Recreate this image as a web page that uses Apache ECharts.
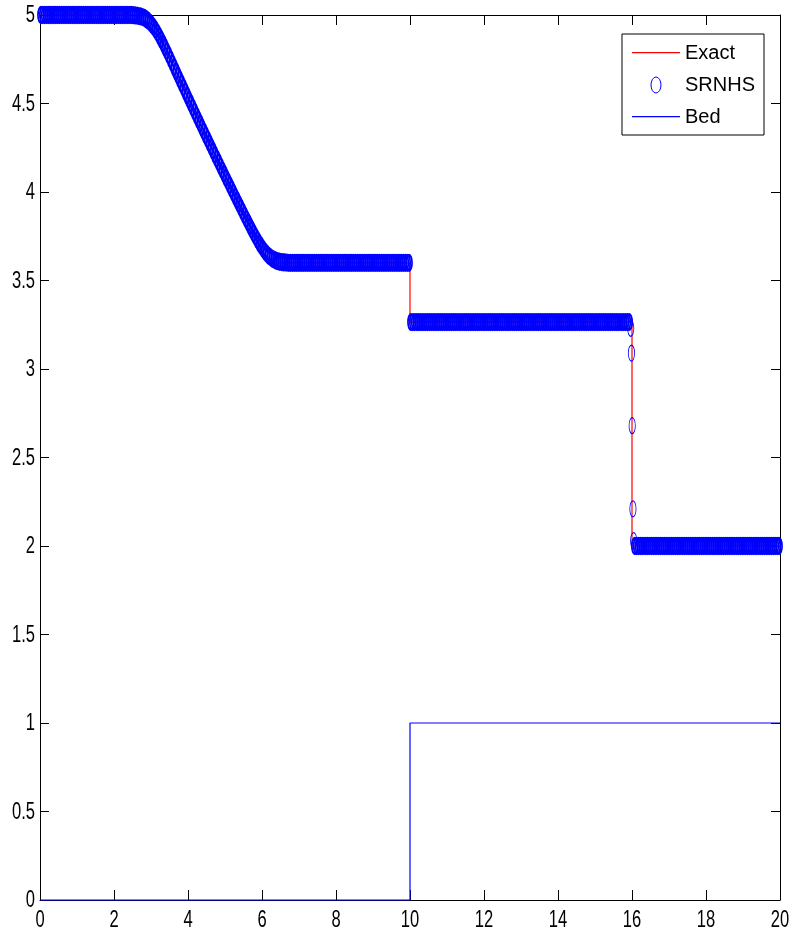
<!DOCTYPE html>
<html>
<head>
<meta charset="utf-8">
<title>Dam break over a step</title>
<script src="https://cdn.jsdelivr.net/npm/echarts@6/dist/echarts.min.js"></script>
<style>
  html, body { margin: 0; padding: 0; background: #fff; }
  #chart { width: 791px; height: 938px; }
</style>
</head>
<body>
<div id="chart"></div>
<script>
// Water surface at t = 1 for a dam break over a bed step at x = 10.
const cellWidth = 0.05;

// Numerical (SRNHS) cell values, one array per stretch of the channel.
const reservoirStart = 0.025;
const hReservoir = [
  5, 5, 5, 5, 5, 5, 5, 5, 5, 5,
  5, 5, 5, 5, 5, 5, 5, 5, 5, 5,
  5, 5, 5, 5, 5, 5, 5, 5, 5, 5,
  5, 5, 5, 5, 5, 5, 5, 5, 5, 5,
  5, 5, 5, 5, 5, 5, 5, 5, 5, 5
];

const fanStart = 2.525;
const hFan = [
  4.999, 4.998, 4.996, 4.994, 4.992, 4.988, 4.983, 4.976, 4.968, 4.957,
  4.945, 4.932, 4.916, 4.899, 4.880, 4.860, 4.840, 4.818, 4.796, 4.774,
  4.751, 4.728, 4.705,
  4.682, 4.659, 4.636, 4.613, 4.591, 4.568, 4.545, 4.522, 4.500, 4.477,
  4.455, 4.432, 4.410, 4.388, 4.365, 4.343, 4.321, 4.299, 4.277, 4.255,
  4.233, 4.211, 4.189, 4.168, 4.146, 4.124, 4.103, 4.081, 4.060, 4.038,
  4.017, 3.996, 3.974, 3.953, 3.932, 3.911, 3.890, 3.869, 3.848,
  3.828, 3.807, 3.787, 3.767, 3.748, 3.729, 3.711, 3.695, 3.679, 3.665,
  3.652, 3.641, 3.632, 3.624, 3.618, 3.613, 3.609, 3.606, 3.604, 3.603,
  3.602, 3.601, 3.600
];

const upstreamStart = 6.775;
const hUpstream = [
  3.6, 3.6, 3.6, 3.6, 3.6, 3.6, 3.6, 3.6, 3.6, 3.6,
  3.6, 3.6, 3.6, 3.6, 3.6, 3.6, 3.6, 3.6, 3.6, 3.6,
  3.6, 3.6, 3.6, 3.6, 3.6, 3.6, 3.6, 3.6, 3.6, 3.6,
  3.6, 3.6, 3.6, 3.6, 3.6, 3.6, 3.6, 3.6, 3.6, 3.6,
  3.6, 3.6, 3.6, 3.6, 3.6, 3.6, 3.6, 3.6, 3.6, 3.6,
  3.6, 3.6, 3.6, 3.6, 3.6, 3.6, 3.6, 3.6, 3.6, 3.6,
  3.6, 3.6, 3.6, 3.6, 3.6
];

const stepStart = 10.025;
const hOverStep = [
  3.265, 3.265, 3.265, 3.265, 3.265, 3.265, 3.265, 3.265, 3.265, 3.265,
  3.265, 3.265, 3.265, 3.265, 3.265, 3.265, 3.265, 3.265, 3.265, 3.265,
  3.265, 3.265, 3.265, 3.265, 3.265, 3.265, 3.265, 3.265, 3.265, 3.265,
  3.265, 3.265, 3.265, 3.265, 3.265, 3.265, 3.265, 3.265, 3.265, 3.265,
  3.265, 3.265, 3.265, 3.265, 3.265, 3.265, 3.265, 3.265, 3.265, 3.265,
  3.265, 3.265, 3.265, 3.265, 3.265, 3.265, 3.265, 3.265, 3.265, 3.265,
  3.265, 3.265, 3.265, 3.265, 3.265, 3.265, 3.265, 3.265, 3.265, 3.265,
  3.265, 3.265, 3.265, 3.265, 3.265, 3.265, 3.265, 3.265, 3.265, 3.265,
  3.265, 3.265, 3.265, 3.265, 3.265, 3.265, 3.265, 3.265, 3.265, 3.265,
  3.265, 3.265, 3.265, 3.265, 3.265, 3.265, 3.265, 3.265, 3.265, 3.265,
  3.265, 3.265, 3.265, 3.265, 3.265, 3.265, 3.265, 3.265, 3.265, 3.265,
  3.265, 3.265, 3.265, 3.265, 3.265, 3.265, 3.265, 3.265, 3.265
];

// Cells inside the bore front
const shockX = [15.965, 15.985, 16.005, 16.025, 16.045];
const shockH = [3.23, 3.09, 2.68, 2.21, 2.03];

const tailStart = 16.075;
const hTailwater = [
  2, 2, 2, 2, 2, 2, 2, 2, 2, 2,
  2, 2, 2, 2, 2, 2, 2, 2, 2, 2,
  2, 2, 2, 2, 2, 2, 2, 2, 2, 2,
  2, 2, 2, 2, 2, 2, 2, 2, 2, 2,
  2, 2, 2, 2, 2, 2, 2, 2, 2, 2,
  2, 2, 2, 2, 2, 2, 2, 2, 2, 2,
  2, 2, 2, 2, 2, 2, 2, 2, 2, 2,
  2, 2, 2, 2, 2, 2, 2, 2, 2
];

// Exact solution: rarefaction fan, standing jump at the step, bore at x = 16
const exactX = [0, 2.996, 3.5, 4.0, 4.5, 5.0, 5.5, 6.0, 6.179, 10, 10, 16, 16, 20];
const exactH = [5, 5, 4.763, 4.534, 4.310, 4.092, 3.879, 3.673, 3.6, 3.6, 3.265, 3.265, 2.0, 2.0];

// Bed profile with a unit step at x = 10
const bedX = [0, 10, 10, 20];
const bedZ = [0, 0, 1, 1];

// Tick values and their labels
const xTickValues = [0, 2, 4, 6, 8, 10, 12, 14, 16, 18, 20];
const xTickLabels = ['0', '2', '4', '6', '8', '10', '12', '14', '16', '18', '20'];
const yTickValues = [0, 0.5, 1, 1.5, 2, 2.5, 3, 3.5, 4, 4.5, 5];
const yTickLabels = ['0', '0.5', '1', '1.5', '2', '2.5', '3', '3.5', '4', '4.5', '5'];

const seriesNames = ['Exact', 'SRNHS', 'Bed'];

function cells(x0, values) {
  return values.map((h, i) => [+(x0 + i * cellWidth).toFixed(3), h]);
}
function pairs(xs, ys) {
  return xs.map((x, i) => [x, ys[i]]);
}

// isolated cells in the bore are drawn with a hairline ring
const shockCells = pairs(shockX, shockH).map(p => ({
  value: p,
  symbolSize: [10, 16],
  itemStyle: { borderWidth: 1 }
}));

const srnhsData = [].concat(
  cells(reservoirStart, hReservoir),
  cells(fanStart, hFan),
  cells(upstreamStart, hUpstream),
  cells(stepStart, hOverStep),
  shockCells,
  cells(tailStart, hTailwater)
);

const font = "'Liberation Sans', Arial, Helvetica, sans-serif";
const ink = '#000';
const labelSize = 23;
const labelSqueeze = 0.72;

function frameAxis(extra) {
  return Object.assign({
    type: 'value',
    axisLine: { show: true, onZero: false, lineStyle: { color: ink, width: 1 } },
    axisTick: { show: true, inside: true, length: 9, lineStyle: { color: ink, width: 1 } },
    splitLine: { show: false },
    axisLabel: { show: false }
  }, extra);
}

const xRange = { min: 0, max: 20, interval: 2 };
const yRange = { min: 0, max: 5, interval: 0.5 };

// thin horizontal bar used as the legend key of line series
const lineKey = 'path://M0,0 M48,16 M0,7 L48,7 L48,8.2 L0,8.2 Z';
const ringKey = 'path://M0,8 A5,8 0 1,1 10,8 A5,8 0 1,1 0,8 Z';

const chart = echarts.init(document.getElementById('chart'), null, { renderer: 'canvas' });

chart.setOption({
  animation: false,
  backgroundColor: '#fff',
  grid: { left: 40, right: 11, top: 15, bottom: 38, outerBoundsMode: 'none', containLabel: false },
  xAxis: [
    frameAxis(Object.assign({
      position: 'bottom',
      axisTick: { show: true, inside: true, length: 10, lineStyle: { color: ink } }
    }, xRange)),
    frameAxis(Object.assign({
      position: 'top',
      axisTick: { show: true, inside: true, length: 10, lineStyle: { color: ink } }
    }, xRange))
  ],
  yAxis: [
    frameAxis(Object.assign({ position: 'left' }, yRange)),
    frameAxis(Object.assign({ position: 'right' }, yRange))
  ],
  legend: {
    data: [
      { name: seriesNames[0], icon: lineKey },
      { name: seriesNames[1], icon: ringKey, itemStyle: { borderWidth: 1, color: 'rgba(0,0,0,0)', borderColor: '#0000ff' } },
      { name: seriesNames[2], icon: lineKey }
    ],
    orient: 'vertical',
    right: 27,
    top: 34,
    padding: [9, 9, 8, 10],
    itemGap: 12,
    itemWidth: 48,
    itemHeight: 16,
    borderColor: ink,
    borderWidth: 1,
    borderRadius: 0,
    backgroundColor: '#fff',
    selectedMode: false,
    textStyle: { color: ink, fontFamily: font, fontSize: 20 }
  },
  series: [
    {
      name: seriesNames[0],
      type: 'line',
      data: pairs(exactX, exactH),
      symbol: 'none',
      symbolKeepAspect: true,
      lineStyle: { color: '#ff0000', width: 1.2 },
      itemStyle: { color: '#ff0000' },
      silent: true,
      z: 2
    },
    {
      name: seriesNames[1],
      type: 'scatter',
      data: srnhsData,
      symbol: ringKey,
      symbolSize: [9.5, 15.5],
      symbolKeepAspect: true,
      clip: false,
      itemStyle: { color: 'rgba(0,0,0,0)', borderColor: '#0000ff', borderWidth: 2.2, opacity: 1 },
      silent: true,
      z: 3
    },
    {
      name: seriesNames[2],
      type: 'line',
      data: pairs(bedX, bedZ),
      symbol: 'none',
      symbolKeepAspect: true,
      clip: false,
      lineStyle: { color: '#0000ff', width: 1.2 },
      itemStyle: { color: '#0000ff' },
      silent: true,
      z: 4
    }
  ]
});

// Tick labels in a narrow face, placed through the axes' own scales.
function placeTickLabels() {
  const xBase = chart.convertToPixel({ yAxisIndex: 0 }, 0);
  const xLeft = chart.convertToPixel({ xAxisIndex: 0 }, 0);
  const texts = [];
  xTickValues.forEach((v, i) => {
    texts.push({
      type: 'text',
      x: chart.convertToPixel({ xAxisIndex: 0 }, v),
      y: xBase + 21,
      scaleX: labelSqueeze,
      silent: true,
      style: {
        text: xTickLabels[i], fill: ink, fontFamily: font, fontSize: labelSize,
        align: 'center', verticalAlign: 'middle'
      }
    });
  });
  yTickValues.forEach((v, i) => {
    texts.push({
      type: 'text',
      x: xLeft - 5,
      y: chart.convertToPixel({ yAxisIndex: 0 }, v) + 1,
      scaleX: labelSqueeze,
      silent: true,
      style: {
        text: yTickLabels[i], fill: ink, fontFamily: font, fontSize: labelSize,
        align: 'right', verticalAlign: 'middle'
      }
    });
  });
  chart.setOption({ graphic: { elements: texts } });
}
placeTickLabels();
</script>
</body>
</html>
